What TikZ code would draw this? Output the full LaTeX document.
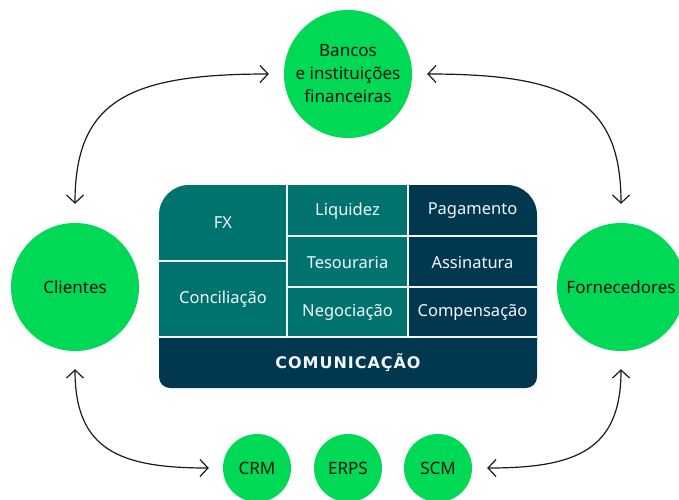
\documentclass[tikz,border=0pt]{standalone}
\usepackage{fontspec}
\setmainfont{Noto Sans}
\IfFontExistsTF{Noto Sans Bold}
  {\newfontfamily\comfont{Noto Sans Bold}[LetterSpace=10]}
  {\newfontfamily\comfont{DejaVu Sans}[LetterSpace=6,UprightFont={* Bold}]}
\usetikzlibrary{arrows.meta}
\definecolor{cgreen}{HTML}{00D955}
\definecolor{cteal}{HTML}{01736F}
\definecolor{cnavy}{HTML}{023750}
\definecolor{ctext}{HTML}{111111}
\definecolor{cwhite}{HTML}{F2F7F7}
\tikzset{
  bubble/.style={circle, fill=cgreen, inner sep=0pt, text=ctext, align=center, font=\fontsize{17}{23}\selectfont},
  bigbubble/.style={bubble, minimum size=128pt},
  smallbubble/.style={bubble, minimum size=68pt},
  celltext/.style={text=cwhite, font=\fontsize{16.5}{20}\selectfont, inner sep=0pt},
  divider/.style={draw=cwhite, line width=1.5pt},
  conn/.style={draw=black!90, line width=1.2pt, {Straight Barb[length=8pt,width=17pt]}-{Straight Barb[length=8pt,width=17pt]}},
}
\begin{document}
\begin{tikzpicture}[x=1pt,y=-1pt]
\useasboundingbox (0,0) rectangle (679,499);
% circles
\node[bigbubble] (ban) at (348,74) {Bancos\\e instituições\\financeiras};
\node[bigbubble] (cli) at (75,287) {Clientes};
\node[bigbubble] (forn) at (621,287) {Fornecedores};
\node[smallbubble] (crm) at (257,468) {CRM};
\node[smallbubble] (erp) at (348,468) {ERPS};
\node[smallbubble] (scm) at (438,468) {SCM};
% central box
\begin{scope}
  \clip (159,300) [rounded corners=30pt] -- (159,185) -- (537,185) -- (537,300)
        [rounded corners=11pt] -- (537,388) -- (159,388) -- cycle;
  \fill[cteal] (150,180) rectangle (408,340);
  \fill[cnavy] (408,180) rectangle (545,340);
  \fill[cnavy] (150,337) rectangle (545,395);
\end{scope}
\draw[divider] (287,185) -- (287,337);
\draw[divider] (408,185) -- (408,337);
\draw[divider] (159,337) -- (537,337);
\draw[divider] (159,261) -- (287,261);
\draw[divider] (287,236) -- (537,236);
\draw[divider] (287,287) -- (537,287);
\node[celltext] (fx) at (223,223) {FX};
\node[celltext] (conc) at (223,299) {Conciliação};
\node[celltext] (liq) at (347.5,211) {Liquidez};
\node[celltext] (tes) at (347.5,262) {Tesouraria};
\node[celltext] (neg) at (347.5,312) {Negociação};
\node[celltext] (pag) at (472.5,211) {Pagamento};
\node[celltext] (ass) at (472.5,262) {Assinatura};
\node[celltext] (comp) at (472.5,312) {Compensação};
\node[celltext, font=\comfont\fontsize{16}{18}\selectfont] (com) at (348,362.5) {COMUNICAÇÃO};
% connectors
\draw[conn] ([yshift=19pt]cli.north) .. controls +(0,104pt) and +(-139pt,0) .. ([xshift=-15pt]ban.west);
\draw[conn] ([xshift=15pt]ban.east) .. controls +(139pt,0) and +(0,104pt) .. ([yshift=19pt]forn.north);
\draw[conn] ([yshift=-18pt]cli.south) .. controls +(0,-81pt) and +(-89pt,0) .. ([xshift=-14pt]crm.west);
\draw[conn] ([xshift=15pt]scm.east) .. controls +(89pt,0) and +(0,-81pt) .. ([yshift=-18pt]forn.south);
\end{tikzpicture}
\end{document}
